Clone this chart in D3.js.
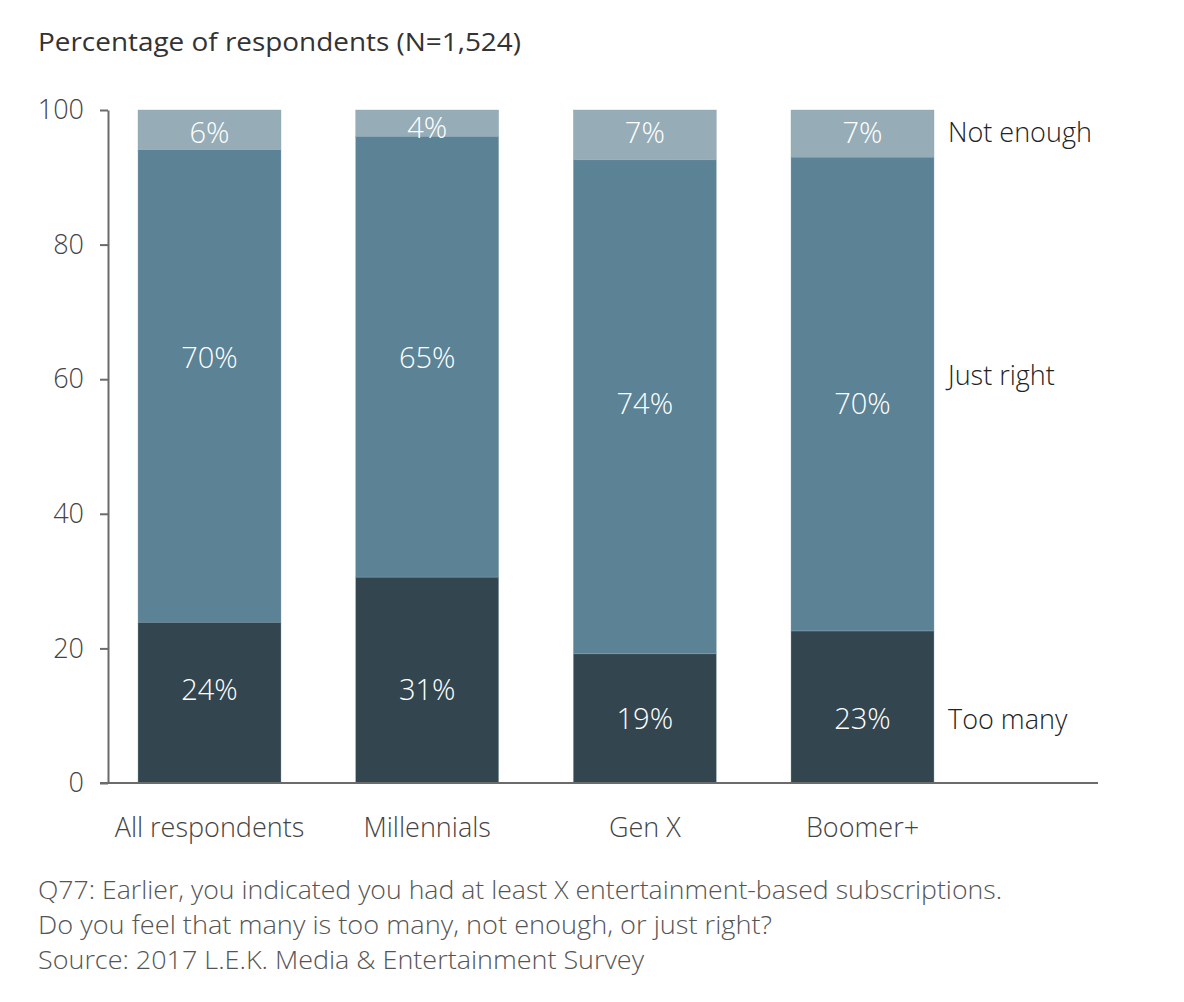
<!DOCTYPE html>
<html>
<head>
<meta charset="utf-8">
<script src="https://cdn.jsdelivr.net/npm/d3@7"></script>
<style>
  html, body { margin: 0; padding: 0; background: #fff; }
  svg { display: block; font-family: "Open Sans", "Noto Sans", sans-serif; }
</style>
</head>
<body>
<svg id="chart" width="1184" height="1002"></svg>
<script>
// ---- data ----
const categories = ["All respondents", "Millennials", "Gen X", "Boomer+"];
const seriesNames = ["Too many", "Just right", "Not enough"];
const tooMany   = [23.9, 30.6, 19.2, 22.6];
const justRight = [70.2, 65.5, 73.4, 70.4];
const notEnough = [5.9, 3.9, 7.4, 7.0];
const valueLabels = [
  ["24%", "31%", "19%", "23%"],
  ["70%", "65%", "74%", "70%"],
  ["6%", "4%", "7%", "7%"]
];
// label anchors in data units (percent), as placed in the original
const labelAt = [
  [13.8, 13.8, 9.6, 9.6],
  [63.2, 63.2, 56.4, 56.4],
  [96.6, 97.3, 96.6, 96.6]
];
const seriesLabelAt = [9.4, 60.5, 96.6];
const yTicks = [0, 20, 40, 60, 80, 100];
const title = "Percentage of respondents (N=1,524)";
const footnotes = [
  "Q77: Earlier, you indicated you had at least X entertainment-based subscriptions.",
  "Do you feel that many is too many, not enough, or just right?",
  "Source: 2017 L.E.K. Media & Entertainment Survey"
];

// ---- layout ----
const colors = ["#33464f", "#5b8295", "#96adb7"];
const svg = d3.select("#chart");

const x = d3.scaleBand().domain(categories).range([138, 934]).paddingInner(0.343).paddingOuter(0);
const y = d3.scaleLinear().domain([0, 100]).range([783, 110]);

const rows = categories.map((c, i) => ({
  cat: c, "Too many": tooMany[i], "Just right": justRight[i], "Not enough": notEnough[i]
}));
const stacked = d3.stack().keys(seriesNames)(rows);

// title
svg.append("text")
  .attr("x", 38).attr("y", 51)
  .attr("font-size", 25).attr("fill", "#333")
  .attr("textLength", 483).attr("lengthAdjust", "spacingAndGlyphs")
  .text(title);

// bars
const g = svg.append("g");
stacked.forEach((s, si) => {
  g.selectAll(null).data(s).enter().append("rect")
    .attr("x", d => x(d.data.cat))
    .attr("width", x.bandwidth())
    .attr("y", d => y(d[1]))
    .attr("height", d => y(d[0]) - y(d[1]))
    .attr("fill", colors[si])
    .attr("stroke", "#8fa9b5").attr("stroke-width", 0.6).attr("stroke-opacity", 0.6);
});

// value labels
stacked.forEach((s, si) => {
  g.selectAll(null).data(s).enter().append("text")
    .attr("x", d => x(d.data.cat) + x.bandwidth() / 2)
    .attr("y", (d, i) => y(labelAt[si][i]))
    .attr("dy", "0.35em")
    .attr("text-anchor", "middle")
    .attr("font-size", 29).attr("font-weight", 300)
    .attr("fill", "#ffffff")
    .text((d, i) => valueLabels[si][i]);
});

// y axis
const yAxis = svg.append("g").attr("transform", "translate(108,0)")
  .call(d3.axisLeft(y).tickValues(yTicks).tickSize(8).tickPadding(16).tickSizeOuter(0));
yAxis.select(".domain").attr("stroke", "#6b6b6b").attr("stroke-width", 2);
yAxis.selectAll(".tick line").attr("stroke", "#6b6b6b").attr("stroke-width", 2);
yAxis.selectAll(".tick text").attr("font-size", 27).attr("fill", "#444")
  .attr("font-family", "'Open Sans', 'Noto Sans', sans-serif").attr("font-weight", 300);

// x baseline
svg.append("line")
  .attr("x1", 100).attr("x2", 1098)
  .attr("y1", y(0)).attr("y2", y(0))
  .attr("stroke", "#6b6b6b").attr("stroke-width", 2);

// category labels
svg.selectAll(".cat").data(categories).enter().append("text")
  .attr("class", "cat")
  .attr("x", d => x(d) + x.bandwidth() / 2)
  .attr("y", 837)
  .attr("text-anchor", "middle")
  .attr("font-size", 27).attr("font-weight", 300)
  .attr("fill", "#444")
  .text(d => d);

// series labels on right
svg.selectAll(".ser").data(seriesNames).enter().append("text")
  .attr("class", "ser")
  .attr("x", 948)
  .attr("y", (d, i) => y(seriesLabelAt[i]))
  .attr("dy", "0.35em")
  .attr("font-size", 27).attr("font-weight", 300)
  .attr("fill", "#222")
  .text(d => d);

// footnotes
const footW = [964, 734, 606];
svg.selectAll(".foot").data(footnotes).enter().append("text")
  .attr("class", "foot")
  .attr("x", 38)
  .attr("y", (d, i) => 899 + i * 35)
  .attr("font-size", 25).attr("font-weight", 300)
  .attr("fill", "#555")
  .attr("textLength", (d, i) => footW[i]).attr("lengthAdjust", "spacingAndGlyphs")
  .text(d => d);
</script>
</body>
</html>
